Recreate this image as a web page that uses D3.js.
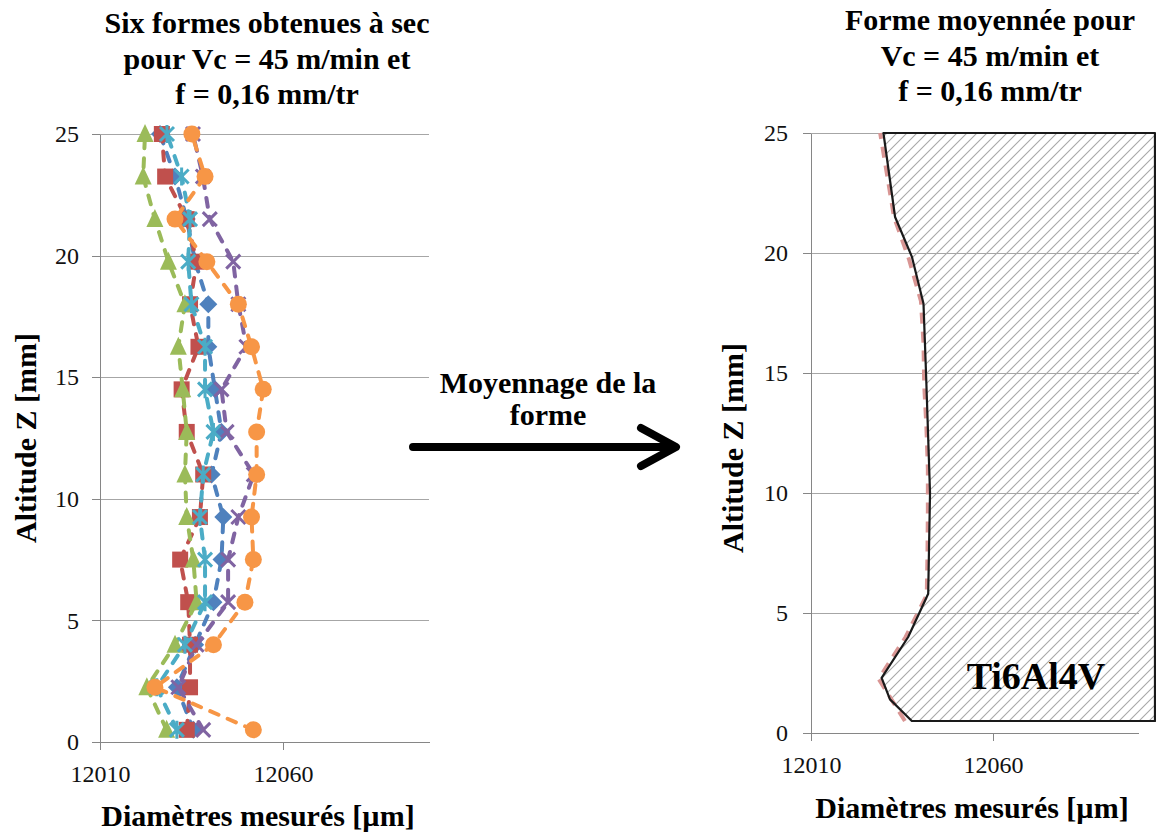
<!DOCTYPE html>
<html>
<head>
<meta charset="utf-8">
<script src="https://cdn.jsdelivr.net/npm/d3@7"></script>
<style>
  body {
    margin: 0;
    background: #fff;
  }

  svg, svg text {
    display: block;
    font-family: "Liberation Serif", "DejaVu Serif", serif;
  }

  .tick text {
    font-size: 24px;
    fill: #111;
  }

  .axis path, .axis line {
    stroke: #868686;
    shape-rendering: crispEdges;
  }

  .grid line {
    stroke: #a6a6a6;
    shape-rendering: crispEdges;
  }

  .grid path {
    display: none;
  }

  .titre {
    font-weight: bold;
    font-size: 30px;
    text-anchor: middle;
  }
</style>
</head>
<body>
<svg id="chart" width="1156" height="834"></svg>
<script>
(function() {

  // altitudes de mesure [mm]
  var altitudes = [0.5, 2.25, 4, 5.75, 7.5, 9.25, 11, 12.75, 14.5, 16.25, 18, 19.75, 21.5, 23.25, 25];

  // diamètres mesurés [µm], une liste par forme
  var forme1 = [12035.5, 12031, 12036, 12041, 12043.2, 12043.7, 12040.5, 12043.2, 12041.4, 12039.6, 12039.6, 12036, 12033.7, 12030.5, 12026.4];
  var forme2 = [12033.7, 12034.6, 12034.6, 12034.1, 12031.9, 12037.3, 12038.2, 12033.7, 12032.3, 12036.9, 12034.6, 12036.4, 12033.7, 12027.8, 12026.9];
  var forme3 = [12028.2, 12022.8, 12030.5, 12036.4, 12035.5, 12033.7, 12033.2, 12033.7, 12032.6, 12031.4, 12033.2, 12028.7, 12025, 12021.8, 12022.3];
  var forme4 = [12038.2, 12031.4, 12036.4, 12045, 12045, 12047.8, 12052, 12044.6, 12043.2, 12050, 12047.8, 12046.4, 12040, 12038.1, 12035.4];
  var forme5 = [12031, 12025.5, 12033.2, 12038.7, 12038.7, 12037.3, 12038.2, 12041, 12038.7, 12038.7, 12035, 12034.1, 12034.6, 12032.3, 12028.3];
  var forme6 = [12051.9, 12025, 12041, 12049.6, 12051.9, 12051.4, 12052.8, 12052.8, 12054.6, 12051.4, 12047.8, 12039.2, 12030.5, 12038.7, 12035.1];

  var formeMoyenne = [12035.8, 12028.6, 12036, 12041.8, 12042, 12042.1, 12042.1, 12041.7, 12041.1, 12040.9, 12040.2, 12036.9, 12032.8, 12030.9, 12029];

  // contour tracé à main levée autour de la forme moyenne
  var contourZ = [0.5, 1.4, 2.3, 4, 5.8, 10, 15, 17.9, 19.85, 21.5, 25];
  var contourD = [12037.7, 12031.7, 12029.4, 12036.7, 12042.2, 12042.7, 12041.6, 12040.9, 12037.7, 12033.1, 12029.9];
  var contourBord = 12104.5;

  var xTicks = [12010, 12060];
  var yTicks = [0, 5, 10, 15, 20, 25];
  var xDomain = [12010, 12100];
  var yDomain = [0, 25];

  var series = [
    {values: forme1, color: '#4f81bd', marker: 'diamond'},
    {values: forme2, color: '#c0504d', marker: 'square'},
    {values: forme3, color: '#9bbb59', marker: 'triangle'},
    {values: forme4, color: '#8064a2', marker: 'cross'},
    {values: forme5, color: '#4bacc6', marker: 'star'},
    {values: forme6, color: '#f79646', marker: 'circle'}
  ];

  var svg = d3.select('#chart');

  var defs = svg.append('defs');
  defs.append('pattern')
      .attr('id', 'hachures')
      .attr('patternUnits', 'userSpaceOnUse')
      .attr('width', 10)
      .attr('height', 10)
    .append('path')
      .attr('d', 'M-1,1 l2,-2 M0,10 l10,-10 M9,11 l2,-2')
      .attr('stroke', '#a8a8a8')
      .attr('stroke-width', 1.1);

  /**
   * Axes, grille et libellés d'un panneau.
   */
  function drawFrame(g, x, y, opts) {
    var x0 = x.range()[0], x1 = x.range()[1];

    g.append('g')
        .attr('class', 'grid')
        .attr('transform', 'translate(' + x0 + ',0)')
        .call(d3.axisLeft(y).tickValues(yTicks.slice(1)).tickSize(-(x1 - x0)).tickFormat(''));

    g.append('g')
        .attr('class', 'axis')
        .attr('transform', 'translate(' + x0 + ',0)')
        .call(d3.axisLeft(y).tickValues(yTicks).tickSize(8).tickSizeOuter(0).tickPadding(opts.yPad))
        .attr('font-family', null)
        .attr('font-size', null);

    var ax = g.append('g')
        .attr('class', 'axis')
        .attr('transform', 'translate(0,' + y(0) + ')')
        .call(d3.axisBottom(x).tickValues(xTicks).tickSize(8).tickSizeOuter(0).tickFormat(d3.format('d')))
        .attr('font-family', null)
        .attr('font-size', null);
    ax.selectAll('text').attr('y', 40).attr('dy', null);

    g.append('text')
        .attr('class', 'titre')
        .attr('transform', 'translate(' + opts.yTitleX + ',' + opts.yTitleY + ') rotate(-90)')
        .text('Altitude Z [mm]');

    g.append('text')
        .attr('class', 'titre')
        .attr('x', opts.xTitleX)
        .attr('y', opts.xTitleY)
        .text('Diamètres mesurés [µm]');

    g.append('text')
        .attr('class', 'titre')
        .selectAll('tspan')
        .data(opts.title)
      .enter().append('tspan')
        .attr('x', opts.titleX)
        .attr('y', function(d, i) { return opts.titleY + i * 35.5; })
        .text(function(d) { return d; });
  }

  function markerPath(type) {
    switch (type) {
      case 'diamond': return 'M0,-9L9,0L0,9L-9,0Z';
      case 'square': return 'M-8,-8H8V8H-8Z';
      case 'triangle': return 'M0,-10L8.5,8H-8.5Z';
      case 'cross': return 'M-7,-7L7,7M-7,7L7,-7';
      case 'star': return 'M-7,-7L7,7M-7,7L7,-7M0,-9V9';
      default: return d3.symbol(d3.symbolCircle, Math.PI * 8.5 * 8.5)();
    }
  }

  // ---- panneau gauche : six formes ----
  var xl = d3.scaleLinear().domain(xDomain).range([100, 429.4]);
  var yl = d3.scaleLinear().domain(yDomain).range([742, 134]);
  var left = svg.append('g');

  drawFrame(left, xl, yl, {
    yPad: 13, yTitleX: 36, yTitleY: 438,
    xTitleX: 258, xTitleY: 826,
    title: ['Six formes obtenues à sec', 'pour Vc = 45 m/min et', 'f = 0,16 mm/tr'],
    titleX: 267, titleY: 33
  });

  var ligne = d3.line()
      .x(function(d) { return xl(d[0]); })
      .y(function(d) { return yl(d[1]); });

  series.forEach(function(s) {
    var pts = altitudes.map(function(z, i) { return [s.values[i], z]; });
    var g = left.append('g');

    g.append('path')
        .datum(pts)
        .attr('d', ligne)
        .attr('fill', 'none')
        .attr('stroke', s.color)
        .attr('stroke-width', 4)
        .attr('stroke-linecap', 'round')
        .attr('stroke-dasharray', '9,10');

    var lined = s.marker === 'cross' || s.marker === 'star';
    g.selectAll('.pt')
        .data(pts)
      .enter().append('path')
        .attr('transform', function(d) { return 'translate(' + xl(d[0]) + ',' + yl(d[1]) + ')'; })
        .attr('d', markerPath(s.marker))
        .attr('fill', lined ? 'none' : s.color)
        .attr('stroke', lined ? s.color : 'none')
        .attr('stroke-width', lined ? 3 : 0);
  });

  // ---- flèche ----
  var arrow = svg.append('g');
  arrow.append('text')
      .attr('class', 'titre')
      .selectAll('tspan')
      .data(['Moyennage de la', 'forme'])
    .enter().append('tspan')
      .attr('x', 548)
      .attr('y', function(d, i) { return 393 + i * 32; })
      .text(function(d) { return d; });
  arrow.append('path')
      .attr('d', 'M413,447H672M641,428L676,447L641,466')
      .attr('fill', 'none')
      .attr('stroke', '#000')
      .attr('stroke-width', 8)
      .attr('stroke-linecap', 'round')
      .attr('stroke-linejoin', 'round');

  // ---- panneau droit : forme moyennée ----
  var xr = d3.scaleLinear().domain(xDomain).range([811, 1138.6]);
  var yr = d3.scaleLinear().domain(yDomain).range([733, 133]);
  var right = svg.append('g');

  drawFrame(right, xr, yr, {
    yPad: 15, yTitleX: 743, yTitleY: 448,
    xTitleX: 972, xTitleY: 818,
    title: ['Forme moyennée pour', 'Vc = 45 m/min et', 'f = 0,16 mm/tr'],
    titleX: 990, titleY: 30
  });

  var contour = contourZ.map(function(z, i) { return [contourD[i], z]; });
  var zMin = contourZ[0], zMax = contourZ[contourZ.length - 1];
  var poly = contour.concat([[contourBord, zMax], [contourBord, zMin]]);

  var ligneR = d3.line()
      .x(function(d) { return xr(d[0]); })
      .y(function(d) { return yr(d[1]); });

  right.append('path')
      .datum(poly)
      .attr('d', function(d) { return ligneR(d) + 'Z'; })
      .attr('fill', 'url(#hachures)');

  right.append('path')
      .datum(altitudes.map(function(z, i) { return [formeMoyenne[i], z]; }))
      .attr('d', ligneR)
      .attr('fill', 'none')
      .attr('stroke', '#d99694')
      .attr('stroke-width', 4)
      .attr('stroke-dasharray', '11,8');

  right.append('path')
      .datum(poly)
      .attr('d', function(d) { return ligneR(d) + 'Z'; })
      .attr('fill', 'none')
      .attr('stroke', '#1a1a1a')
      .attr('stroke-width', 2.2)
      .attr('stroke-linejoin', 'round');

  right.append('text')
      .attr('x', 1036)
      .attr('y', 689)
      .attr('text-anchor', 'middle')
      .attr('font-weight', 'bold')
      .attr('font-size', 38)
      .text('Ti6Al4V');

})();
</script>
</body>
</html>
